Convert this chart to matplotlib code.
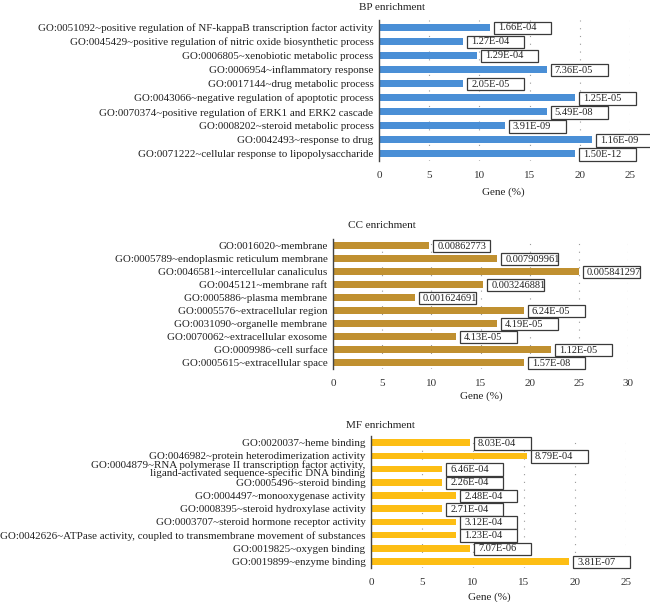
import matplotlib
matplotlib.use("Agg")
import matplotlib.pyplot as plt
from matplotlib.patches import Rectangle

plt.rcParams['font.family'] = ['Liberation Serif', 'DejaVu Serif']

# BP enrichment, listed top to bottom
bp_terms = [
    "GO:0051092~positive regulation of NF-kappaB transcription factor activity",
    "GO:0045429~positive regulation of nitric oxide biosynthetic process",
    "GO:0006805~xenobiotic metabolic process",
    "GO:0006954~inflammatory response",
    "GO:0017144~drug metabolic process",
    "GO:0043066~negative regulation of apoptotic process",
    "GO:0070374~positive regulation of ERK1 and ERK2 cascade",
    "GO:0008202~steroid metabolic process",
    "GO:0042493~response to drug",
    "GO:0071222~cellular response to lipopolysaccharide",
]
bp_gene = [11.1, 8.4, 9.8, 16.7, 8.4, 19.5, 16.7, 12.5, 21.2, 19.5]
bp_pval = ["1.66E-04", "1.27E-04", "1.29E-04", "7.36E-05", "2.05E-05",
           "1.25E-05", "5.49E-08", "3.91E-09", "1.16E-09", "1.50E-12"]

# CC enrichment
cc_terms = [
    "GO:0016020~membrane",
    "GO:0005789~endoplasmic reticulum membrane",
    "GO:0046581~intercellular canaliculus",
    "GO:0045121~membrane raft",
    "GO:0005886~plasma membrane",
    "GO:0005576~extracellular region",
    "GO:0031090~organelle membrane",
    "GO:0070062~extracellular exosome",
    "GO:0009986~cell surface",
    "GO:0005615~extracellular space",
]
cc_gene = [9.8, 16.7, 25.0, 15.3, 8.3, 19.4, 16.7, 12.5, 22.2, 19.4]
cc_pval = ["0.00862773", "0.007909961", "0.005841297", "0.003246881", "0.001624691",
           "6.24E-05", "4.19E-05", "4.13E-05", "1.12E-05", "1.57E-08"]

# MF enrichment
mf_terms = [
    "GO:0020037~heme binding",
    "GO:0046982~protein heterodimerization activity",
    "GO:0004879~RNA polymerase II transcription factor activity,\nligand-activated sequence-specific DNA binding",
    "GO:0005496~steroid binding",
    "GO:0004497~monooxygenase activity",
    "GO:0008395~steroid hydroxylase activity",
    "GO:0003707~steroid hormone receptor activity",
    "GO:0042626~ATPase activity, coupled to transmembrane movement of substances",
    "GO:0019825~oxygen binding",
    "GO:0019899~enzyme binding",
]
mf_gene = [9.7, 15.3, 7.0, 7.0, 8.35, 7.0, 8.35, 8.35, 9.7, 19.45]
mf_pval = ["8.03E-04", "8.79E-04", "6.46E-04", "2.26E-04", "2.48E-04",
           "2.71E-04", "3.12E-04", "1.23E-04", "7.07E-06", "3.81E-07"]

W, H = 650, 602
fig = plt.figure(figsize=(W / 100, H / 100), dpi=100)

# axes box in pixels (left, top, right, bottom), xmax, colour, title, title pos, xlabel pos
panels = [
    ((379, 20, 630, 161), 25, "#4a8fd6", "BP enrichment", bp_terms, bp_gene, bp_pval, (359, 7), (503, 192)),
    ((333, 239, 628, 369), 30, "#c09030", "CC enrichment", cc_terms, cc_gene, cc_pval, (348, 225), (481, 396)),
    ((371, 436, 626, 568), 25, "#fdbe14", "MF enrichment", mf_terms, mf_gene, mf_pval, (346, 425), (489, 597)),
]

box_w, box_h, gap, tpad = 57, 12.5, 4, 4

for (l, t, r, b), xmax, color, title, terms, gene, pval, tpos, lpos in panels:
    ax = fig.add_axes([l / W, 1 - b / H, (r - l) / W, (b - t) / H])
    n = len(terms)
    ypos = list(range(n))
    ax.barh(ypos, gene, height=0.5, color=color, zorder=2)
    ax.set_xlim(0, xmax)
    ax.set_ylim(n - 0.5, -0.5)
    ax.set_yticks(ypos)
    ax.set_yticklabels(terms, fontsize=7.9, linespacing=0.8)
    ax.set_xticks(range(0, xmax + 1, 5))
    ax.tick_params(axis='x', length=0, labelsize=8, pad=7, colors='#333333')
    ax.tick_params(axis='y', length=0, pad=4, colors='#222222')
    for s in ['top', 'right', 'bottom']:
        ax.spines[s].set_visible(False)
    ax.spines['left'].set_color('#444444')
    ax.spines['left'].set_linewidth(1.0)
    for xv in range(5, xmax + 1, 5):
        ax.axvline(xv, color='#9a9a9a', lw=0.8, linestyle=(0, (1, 6)), zorder=1)

    ppu = (r - l) / xmax          # pixels per x unit
    ppy = (b - t) / n             # pixels per row
    for i, (g, p) in enumerate(zip(gene, pval)):
        x0 = g + gap / ppu
        ax.add_patch(Rectangle((x0, i - box_h / 2 / ppy + 0.05), box_w / ppu, box_h / ppy,
                               facecolor='white', edgecolor='#3a3a3a', lw=0.9,
                               clip_on=False, zorder=3))
        ax.text(x0 + tpad / ppu, i + 0.05, p, fontsize=7.5, va='center', ha='left',
                color='#222222', clip_on=False, zorder=4)

    fig.text(tpos[0] / W, 1 - tpos[1] / H, title, fontsize=8, ha='left', va='center', color='#222222')
    fig.text(lpos[0] / W, 1 - lpos[1] / H, "Gene (%)", fontsize=8, ha='center', va='center', color='#222222')

fig.savefig("out.png", dpi=100)
